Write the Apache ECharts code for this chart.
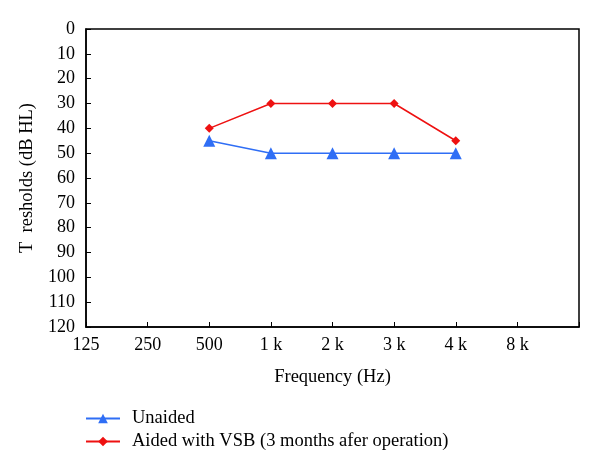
<!DOCTYPE html>
<html><head><meta charset="utf-8">
<script src="https://cdn.jsdelivr.net/npm/echarts@6/dist/echarts.min.js"></script>
<style>html,body{margin:0;padding:0;background:#fff}#c{width:600px;height:474px}</style>
</head><body><div id="c"></div>
<script>
const categories = ['125','250','500','1 k','2 k','3 k','4 k','8 k',''];
const unaided = [null,null,45,50,50,50,50,null,null];
const aided = [null,null,40,30,30,30,45,null,null];
const yMin = 0, yMax = 120, yStep = 10;
const F = 'Liberation Serif';
const chart = echarts.init(document.getElementById('c'));
chart.setOption({
  animation:false,
  textStyle:{fontFamily:F},
  grid:{left:86,right:21,top:29,bottom:147,show:true,borderColor:'#000',borderWidth:1.5,backgroundColor:'transparent'},
  legend:{
    orient:'vertical',left:80,top:404,itemWidth:34,itemHeight:12,itemGap:4,
    textStyle:{fontFamily:F,fontSize:18.5,color:'#000',padding:[0,0,0,7]},
    data:['Unaided','Aided with VSB (3 months afer operation)']
  },
  xAxis:{
    type:'category',data:categories,boundaryGap:false,position:'bottom',
    name:'Frequency (Hz)',nameLocation:'middle',nameGap:41,
    nameTextStyle:{fontFamily:F,fontSize:18.5,color:'#000'},
    axisLine:{onZero:false,lineStyle:{color:'#000',width:1.5}},
    axisTick:{inside:true,length:5,lineStyle:{color:'#000',width:1}},
    axisLabel:{fontFamily:F,fontSize:18,color:'#000',margin:9},
    splitLine:{show:false}
  },
  yAxis:{
    type:'value',inverse:true,min:yMin,max:yMax,interval:yStep,
    name:'T  resholds (dB HL)',nameLocation:'middle',nameGap:44,nameRotate:90,
    nameTextStyle:{fontFamily:F,fontSize:18.5,color:'#000',padding:[8,0,0,0]},
    axisLine:{show:true,lineStyle:{color:'#000',width:1.5}},
    axisTick:{show:true,inside:true,length:5,lineStyle:{color:'#000',width:1}},
    axisLabel:{fontFamily:F,fontSize:18,color:'#000',margin:11},
    splitLine:{show:false}
  },
  series:[
    {name:'Unaided',type:'line',data:unaided,symbol:'triangle',symbolSize:12,
     itemStyle:{color:'#2f6ef5'},lineStyle:{color:'#2f6ef5',width:1.5},connectNulls:false},
    {name:'Aided with VSB (3 months afer operation)',type:'line',data:aided,symbol:'diamond',symbolSize:9,
     itemStyle:{color:'#ee1111'},lineStyle:{color:'#ee1111',width:1.5}}
  ]
});
</script></body></html>
